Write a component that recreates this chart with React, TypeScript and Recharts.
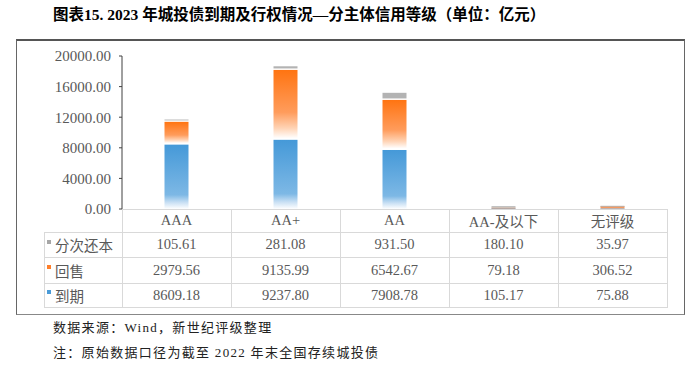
import React from 'react'
import { BarChart, Bar, XAxis, YAxis } from 'recharts'

const categories = ['AAA', 'AA+', 'AA', 'AA-及以下', '无评级']
const installment = [105.61, 281.08, 931.5, 180.1, 35.97] // 分次还本
const putback = [2979.56, 9135.99, 6542.67, 79.18, 306.52] // 回售
const maturity = [8609.18, 9237.8, 7908.78, 105.17, 75.88] // 到期
const yTicks = [0, 4000, 8000, 12000, 16000, 20000]

const seriesRows = [
  { name: '分次还本', values: installment, color: '#a6a6a6' },
  { name: '回售', values: putback, color: '#ff7f2a' },
  { name: '到期', values: maturity, color: '#4a9bd8' },
]

const data = categories.map((c, i) => ({
  cat: c,
  maturity: maturity[i],
  putback: putback[i],
  installment: installment[i],
}))

const PLOT_LEFT = 122
const PLOT_RIGHT = 667
const PLOT_TOP = 56
const PLOT_BOTTOM = 209
const TABLE_LEFT = 44
const ROW_TOPS = [209, 232, 257, 283, 307]
const GRID = '#d9d9d9'
const TEXT = '#595959'
const SERIF = "'Liberation Serif', 'Times New Roman', 'Noto Sans CJK SC', serif"

// segment with a thin white gap on top, tiny ones kept visible
function Segment(props: any) {
  const { x, y, width, height, fill } = props
  if (height == null || height <= 0) return null
  const gap = height > 4 ? 1.5 : 0
  const h = Math.max(height - gap, 0.9)
  return <rect x={x + 0.5} y={y + gap} width={width - 1} height={h} fill={fill} />
}

export default function App() {
  const colW = (PLOT_RIGHT - PLOT_LEFT) / categories.length
  const yAxisW = 80

  const cells: React.ReactNode[] = []
  categories.forEach((c, i) => {
    cells.push(
      <div key={'h' + i} style={{
        position: 'absolute', left: PLOT_LEFT + i * colW, top: ROW_TOPS[0], width: colW, height: ROW_TOPS[1] - ROW_TOPS[0],
        display: 'flex', alignItems: 'center', justifyContent: 'center', fontSize: 14.5, color: TEXT, fontFamily: SERIF,
      }}>{c}</div>
    )
  })
  seriesRows.forEach((row, r) => {
    const top = ROW_TOPS[r + 1]
    const h = ROW_TOPS[r + 2] - top
    cells.push(
      <div key={'l' + r} style={{
        position: 'absolute', left: TABLE_LEFT, top, width: PLOT_LEFT - TABLE_LEFT, height: h,
        display: 'flex', alignItems: 'center', fontSize: 14.5, color: TEXT, fontFamily: "'Noto Sans CJK SC', sans-serif",
      }}>
        <span style={{ display: 'inline-block', width: 4, height: 4, background: row.color, marginLeft: 3, marginRight: 4, marginTop: -6 }} />
        {row.name}
      </div>
    )
    row.values.forEach((v, i) => {
      cells.push(
        <div key={'v' + r + '-' + i} style={{
          position: 'absolute', left: PLOT_LEFT + i * colW, top, width: colW, height: h,
          display: 'flex', alignItems: 'center', justifyContent: 'center', fontSize: 14.5, color: TEXT, fontFamily: SERIF,
        }}>{v.toFixed(2)}</div>
      )
    })
  })

  const lines: React.ReactNode[] = []
  ROW_TOPS.forEach((y, r) => {
    const left = r === 0 ? PLOT_LEFT : TABLE_LEFT
    lines.push(<div key={'hl' + r} style={{ position: 'absolute', left, top: y, width: PLOT_RIGHT - left + 1, height: 1, background: GRID }} />)
  })
  for (let i = 0; i <= categories.length; i++) {
    lines.push(<div key={'vl' + i} style={{ position: 'absolute', left: PLOT_LEFT + i * colW, top: ROW_TOPS[0], width: 1, height: ROW_TOPS[4] - ROW_TOPS[0], background: GRID }} />)
  }
  lines.push(<div key="vl-left" style={{ position: 'absolute', left: TABLE_LEFT, top: ROW_TOPS[1], width: 1, height: ROW_TOPS[4] - ROW_TOPS[1], background: GRID }} />)

  return (
    <div style={{ position: 'absolute', left: 0, top: 0, width: 700, height: 368, background: '#fff', overflow: 'hidden' }}>
      <div style={{
        position: 'absolute', left: 53, top: 5, fontSize: 15.5, lineHeight: '20px', fontWeight: 700, color: '#000',
        fontFamily: SERIF, whiteSpace: 'nowrap',
      }}>图表15. 2023 年城投债到期及行权情况—分主体信用等级（单位：亿元）</div>

      <div style={{
        position: 'absolute', left: 16, top: 39, width: 667, height: 273,
        borderTop: '2px solid #555', borderLeft: '1.5px solid #666', borderRight: '1.5px solid #666', borderBottom: '1.5px solid #888',
      }} />

      <div style={{ position: 'absolute', left: 0, top: 0 }}>
        <BarChart
          width={700}
          height={368}
          data={data}
          margin={{ top: PLOT_TOP, right: 700 - PLOT_RIGHT, bottom: 368 - PLOT_BOTTOM, left: PLOT_LEFT - yAxisW }}
          barSize={25}
        >
          <defs>
            <linearGradient id="gBlue" x1="0" y1="0" x2="0" y2="1">
              <stop offset="0" stopColor="#4599d8" />
              <stop offset="0.78" stopColor="#7db8e5" />
              <stop offset="0.9" stopColor="#c9e0f4" />
              <stop offset="1" stopColor="#ffffff" />
            </linearGradient>
            <linearGradient id="gOrange" x1="0" y1="0" x2="0" y2="1">
              <stop offset="0" stopColor="#ff7411" />
              <stop offset="0.62" stopColor="#ff9c5c" />
              <stop offset="0.85" stopColor="#ffd3b4" />
              <stop offset="1" stopColor="#ffffff" />
            </linearGradient>
          </defs>
          <XAxis dataKey="cat" hide />
          <YAxis
            width={yAxisW}
            domain={[0, 20000]}
            ticks={yTicks}
            interval={0}
            tickFormatter={(v: number) => v.toFixed(2)}
            tick={{ fill: TEXT, fontSize: 15, fontFamily: SERIF }}
            tickSize={3}
            tickMargin={8}
            axisLine={{ stroke: '#404040' }}
            tickLine={{ stroke: '#404040' }}
          />
          <Bar dataKey="maturity" stackId="s" fill="url(#gBlue)" shape={Segment} isAnimationActive={false} />
          <Bar dataKey="putback" stackId="s" fill="#f59a62" shape={(p: any) => <Segment {...p} fill={p.height > 4 ? 'url(#gOrange)' : '#f59a62'} />} isAnimationActive={false} />
          <Bar dataKey="installment" stackId="s" fill="#b3b3b3" shape={Segment} isAnimationActive={false} />
        </BarChart>
      </div>

      {lines}
      {cells}

      <div style={{
        position: 'absolute', left: 53, top: 316, fontSize: 13, lineHeight: '24.5px', color: '#222',
        fontFamily: SERIF, letterSpacing: 1.3, whiteSpace: 'nowrap',
      }}>
        <div>数据来源：Wind，新世纪评级整理</div>
        <div>注：原始数据口径为截至 2022 年末全国存续城投债</div>
      </div>
    </div>
  )
}
